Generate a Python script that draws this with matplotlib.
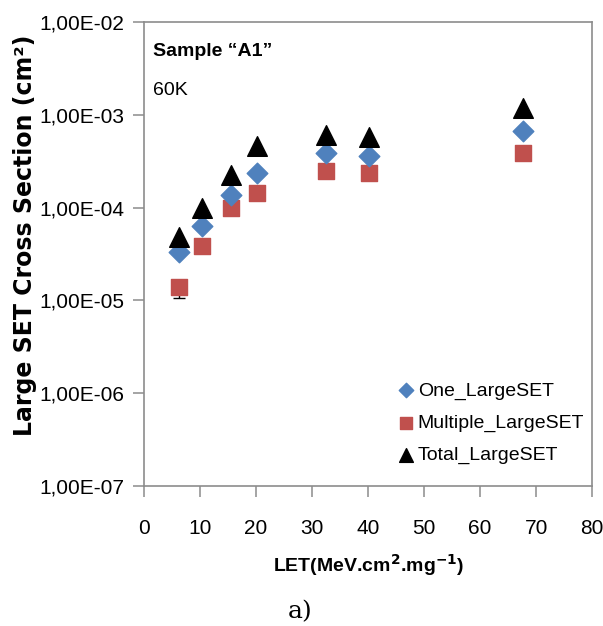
import matplotlib
matplotlib.use("Agg")
import matplotlib.pyplot as plt
from matplotlib.ticker import FixedLocator, NullLocator

let = [6.2, 10.3, 15.6, 20.1, 32.5, 40.2, 67.6]
one_large = [3.35e-5, 6.3e-5, 1.37e-4, 2.38e-4, 3.85e-4, 3.63e-4, 6.7e-4]
multiple_large = [1.4e-5, 3.9e-5, 9.8e-5, 1.43e-4, 2.5e-4, 2.35e-4, 3.85e-4]
total_large = [4.8e-5, 9.8e-5, 2.24e-4, 4.6e-4, 6.05e-4, 5.7e-4, 1.17e-3]
y_ticks = [1e-7, 1e-6, 1e-5, 1e-4, 1e-3, 1e-2]
y_tick_labels = ["1,00E-07", "1,00E-06", "1,00E-05", "1,00E-04", "1,00E-03", "1,00E-02"]
x_ticks = [0, 10, 20, 30, 40, 50, 60, 70, 80]

narrow = ["Liberation Sans", "DejaVu Sans"]

fig = plt.figure(figsize=(6.03, 6.26), dpi=100)
ax = fig.add_axes([0.239, 0.2236, 0.743, 0.7414])

ax.set_yscale("log")
ax.set_xlim(0, 80)
ax.set_ylim(1e-7, 1e-2)

# small error bar on lowest multiple point
ax.errorbar([let[0]], [multiple_large[0]], yerr=[[multiple_large[0]-1.05e-5], [0]],
            fmt="none", ecolor="black", elinewidth=1, capsize=4, zorder=2)

ax.scatter(let, one_large, marker="D", s=110, color="#4F81BD", label="One_LargeSET", zorder=4)
ax.scatter(let, multiple_large, marker="s", s=130, color="#C0504D", label="Multiple_LargeSET", zorder=3)
ax.scatter(let, total_large, marker="^", s=200, color="black", label="Total_LargeSET", zorder=5)

ax.yaxis.set_major_locator(FixedLocator(y_ticks))
ax.yaxis.set_minor_locator(NullLocator())
ax.set_yticklabels(y_tick_labels, fontfamily=narrow, fontsize=15)
ax.set_xticks(x_ticks)
ax.set_xticklabels([str(v) for v in x_ticks], fontfamily=narrow, fontsize=15)

for s in ax.spines.values():
    s.set_color("#8c8c8c")
    s.set_linewidth(1.2)
ax.tick_params(axis="both", direction="out", length=8, width=1.1, color="#8c8c8c", pad=6)
ax.tick_params(axis="x", pad=16)

ax.set_ylabel("Large SET Cross Section (cm²)", fontsize=17, fontweight="bold",
              fontfamily="DejaVu Sans", labelpad=2)
ax.yaxis.label.set_y(0.54)
ax.set_xlabel("LET(MeV.cm$^{\\mathbf{2}}$.mg$^{\\mathbf{-1}}$)", fontsize=14, fontweight="bold",
              fontfamily=narrow, labelpad=10)

ax.text(0.02, 0.937, "Sample \u201cA1\u201d", transform=ax.transAxes, fontsize=14,
        fontweight="bold", fontfamily=narrow, ha="left", va="center")
ax.text(0.02, 0.853, "60K", transform=ax.transAxes, fontsize=14,
        fontfamily=narrow, ha="left", va="center")

leg = ax.legend(loc="lower right", bbox_to_anchor=(1.0, 0.03), frameon=False,
                prop={"family": narrow, "size": 14},
                handletextpad=0.1, labelspacing=0.75, borderaxespad=0.0,
                handlelength=1.0, markerscale=0.7)

fig.text(0.497, 0.005, "a)", fontsize=18, fontfamily="DejaVu Serif", ha="center", va="bottom")

fig.savefig("out.png", dpi=100)
